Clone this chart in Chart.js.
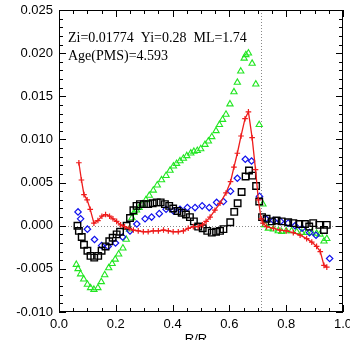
<!DOCTYPE html>
<html>
<head>
<meta charset="utf-8">
<script src="https://cdn.jsdelivr.net/npm/chart.js@4.4.0/dist/chart.umd.min.js"></script>
<style>
  body { margin: 0; background: #fff; }
  #wrap { width: 350px; height: 340px; }
</style>
</head>
<body>
<div id="wrap"><canvas id="myChart"></canvas></div>
<script>
// red line with + markers
const redX = [0.070, 0.079, 0.088, 0.099, 0.110, 0.123, 0.137, 0.151, 0.164, 0.178, 0.190, 0.203, 0.217, 0.231, 0.247,
  0.262, 0.279, 0.297, 0.314, 0.332, 0.350, 0.368, 0.385, 0.402, 0.420, 0.438, 0.455, 0.473, 0.490, 0.505, 0.518,
  0.532, 0.549, 0.567, 0.588, 0.604, 0.616, 0.628, 0.641, 0.655, 0.667, 0.680, 0.692, 0.702, 0.712, 0.718, 0.731,
  0.755, 0.778, 0.800, 0.825, 0.849, 0.872, 0.890, 0.907, 0.920, 0.933, 0.943];
const redY = [0.0073, 0.0053, 0.0036, 0.0030, 0.0019, 0.0003, 0.0006, 0.0011, 0.0013, 0.0011, 0.0008, 0.0005, 0.0001, -0.0001, -0.0003,
  -0.0005, -0.0006, -0.0007, -0.0007, -0.0006, -0.0006, -0.0005, -0.0006, -0.0007, -0.0007, -0.0006, -0.0003, -0.0001, -0.0001, 0.0001, 0.0005,
  0.0010, 0.0018, 0.0026, 0.0038, 0.0051, 0.0068, 0.0084, 0.0104, 0.0124, 0.0132, 0.0102, 0.0065, 0.0030, 0.0008, 0.0003, -0.0001,
  -0.0003, -0.0005, -0.0006, -0.0008, -0.0011, -0.0015, -0.0019, -0.0024, -0.0030, -0.0046, -0.0048];

// green triangles
const greenX = [0.061, 0.067, 0.076, 0.087, 0.100, 0.111, 0.123, 0.137, 0.149, 0.161, 0.175, 0.187, 0.198, 0.210, 0.225,
  0.237, 0.248, 0.257, 0.264, 0.273, 0.282, 0.294, 0.306, 0.318, 0.332, 0.346, 0.361, 0.377, 0.391, 0.403, 0.414,
  0.426, 0.438, 0.450, 0.464, 0.475, 0.487, 0.499, 0.514, 0.526, 0.538, 0.553, 0.565, 0.576, 0.588, 0.602, 0.616,
  0.628, 0.640, 0.652, 0.658, 0.667, 0.680, 0.693, 0.705, 0.718, 0.725, 0.737, 0.755, 0.772, 0.784, 0.800, 0.819,
  0.837, 0.855, 0.872, 0.890, 0.907, 0.919, 0.933, 0.943];
const greenY = [-0.0045, -0.0050, -0.0056, -0.0062, -0.0068, -0.0072, -0.0074, -0.0072, -0.0065, -0.0057, -0.0049, -0.0044, -0.0039, -0.0033, -0.0026,
  -0.0016, -0.0004, 0.0009, 0.0015, 0.0018, 0.0021, 0.0025, 0.0030, 0.0035, 0.0041, 0.0047, 0.0053, 0.0058, 0.0064, 0.0069, 0.0072,
  0.0075, 0.0078, 0.0081, 0.0084, 0.0086, 0.0087, 0.0089, 0.0094, 0.0098, 0.0103, 0.0110, 0.0117, 0.0123, 0.0129, 0.0141, 0.0155,
  0.0166, 0.0179, 0.0194, 0.0198, 0.0200, 0.0188, 0.0164, 0.0117, 0.0025, 0.0001, -0.0003, -0.0004, -0.0006, -0.0007, -0.0006, -0.0006,
  -0.0007, -0.0008, -0.0008, -0.0008, -0.0009, -0.0010, -0.0018, -0.0015];

// blue diamonds
const blueX = [0.067, 0.076, 0.100, 0.125, 0.150, 0.173, 0.199, 0.224, 0.250, 0.274, 0.303, 0.326, 0.353, 0.377, 0.403,
  0.426, 0.452, 0.479, 0.504, 0.529, 0.555, 0.579, 0.604, 0.628, 0.656, 0.678, 0.706, 0.728, 0.755, 0.780, 0.807,
  0.831, 0.856, 0.882, 0.905, 0.953];
const blueY = [0.0016, 0.0008, -0.0004, -0.0016, -0.0023, -0.0024, -0.0020, -0.0013, -0.0006, 0.0002, 0.0008, 0.0010, 0.0014, 0.0019, 0.0017,
  0.0019, 0.0021, 0.0021, 0.0023, 0.0021, 0.0027, 0.0028, 0.0040, 0.0055, 0.0077, 0.0075, 0.0034, 0.0008, 0.0006, 0.0005, 0.0003,
  0.0000, -0.0003, -0.0008, -0.0011, -0.0038];

// black squares
const blackX = [0.065, 0.070, 0.080, 0.088, 0.100, 0.111, 0.124, 0.138, 0.150, 0.164, 0.177, 0.189, 0.203, 0.215, 0.238,
  0.250, 0.262, 0.273, 0.285, 0.299, 0.314, 0.330, 0.344, 0.358, 0.373, 0.388, 0.402, 0.417, 0.432, 0.447, 0.461,
  0.475, 0.490, 0.506, 0.522, 0.538, 0.553, 0.567, 0.579, 0.603, 0.617, 0.629, 0.643, 0.657, 0.669, 0.681, 0.694,
  0.705, 0.715, 0.731, 0.749, 0.766, 0.784, 0.807, 0.825, 0.846, 0.866, 0.881, 0.895, 0.917, 0.933, 0.943];
const blackY = [0.0000, -0.0006, -0.0013, -0.0022, -0.0029, -0.0035, -0.0037, -0.0035, -0.0029, -0.0024, -0.0018, -0.0014, -0.0010, -0.0007, 0.0000,
  0.0009, 0.0018, 0.0023, 0.0025, 0.0025, 0.0025, 0.0026, 0.0027, 0.0027, 0.0025, 0.0023, 0.0020, 0.0017, 0.0015, 0.0013, 0.0010,
  0.0005, -0.0001, -0.0003, -0.0006, -0.0008, -0.0007, -0.0006, -0.0004, 0.0004, 0.0016, 0.0026, 0.0039, 0.0057, 0.0064, 0.0058, 0.0046,
  0.0028, 0.0010, 0.0008, 0.0005, 0.0006, 0.0005, 0.0004, 0.0003, 0.0002, 0.0002, -0.0001, 0.0003, 0.0001, -0.0005, 0.0001];

const xTicks = [0.0, 0.2, 0.4, 0.6, 0.8, 1.0];
const yTicks = [-0.010, -0.005, 0.000, 0.005, 0.010, 0.015, 0.020, 0.025];
const baseCZ = 0.713;
const infoLines = ["Zi=0.01774  Yi=0.28  ML=1.74", "Age(PMS)=4.593"];

const toPoints = (xs, ys) => xs.map((x, i) => ({ x: x, y: ys[i] }));

// box, inward ticks, dotted guides and texts
const frame = {
  id: "frame",
  beforeDatasetsDraw(chart) {
    const { ctx, chartArea: a, scales } = chart;
    ctx.save();
    ctx.strokeStyle = "#888";
    ctx.lineWidth = 1;
    ctx.setLineDash([1, 2]);
    const y0 = Math.round(scales.y.getPixelForValue(0)) + 0.5;
    ctx.beginPath();
    ctx.moveTo(a.left, y0);
    ctx.lineTo(a.right, y0);
    const xc = Math.round(scales.x.getPixelForValue(baseCZ)) + 0.5;
    ctx.moveTo(xc, a.top);
    ctx.lineTo(xc, a.bottom);
    ctx.stroke();
    ctx.restore();
  },
  afterDraw(chart) {
    const { ctx, chartArea: a, scales } = chart;
    ctx.save();
    ctx.strokeStyle = "#000";
    ctx.lineWidth = 1;
    ctx.strokeRect(a.left + 0.5, a.top + 0.5, a.right - a.left - 1, a.bottom - a.top - 1);
    ctx.beginPath();
    for (let i = 0; i <= 20; i++) {
      const len = i % 4 === 0 ? 7 : 4;
      const px = Math.round(scales.x.getPixelForValue(i * 0.05)) + 0.5;
      ctx.moveTo(px, a.bottom);
      ctx.lineTo(px, a.bottom - len);
      ctx.moveTo(px, a.top);
      ctx.lineTo(px, a.top + len);
    }
    for (let i = -10; i <= 25; i++) {
      const len = i % 5 === 0 ? 7 : 4;
      const py = Math.round(scales.y.getPixelForValue(i * 0.001)) + 0.5;
      ctx.moveTo(a.left, py);
      ctx.lineTo(a.left + len, py);
      ctx.moveTo(a.right, py);
      ctx.lineTo(a.right - len, py);
    }
    ctx.stroke();

    ctx.fillStyle = "#000";
    ctx.font = "14px 'Liberation Serif'";
    ctx.textAlign = "left";
    ctx.textBaseline = "alphabetic";
    ctx.fillText(infoLines[0], a.left + 9, a.top + 32);
    ctx.fillText(infoLines[1], a.left + 9, a.top + 50);

    // axis titles (mostly off the canvas like the original)
    ctx.font = "13px 'Liberation Sans'";
    ctx.textAlign = "center";
    ctx.fillText("R/R", (a.left + a.right) / 2 - 5, 343);
    ctx.translate(-3, (a.top + a.bottom) / 2 - 10);
    ctx.rotate(-Math.PI / 2);
    ctx.font = "11px 'DejaVu Sans'";
    ctx.fillText("δc²ₛ / c²ₛ,⊙", 0, 0);
    ctx.restore();
  }
};

const hiddenGrid = { drawOnChartArea: false, drawTicks: false, color: "rgba(0,0,0,0)" };

const ctx = document.getElementById("myChart").getContext("2d");
const myChart = new Chart(ctx, {
  type: "scatter",
  data: {
    datasets: [
      {
        data: toPoints(redX, redY),
        showLine: true,
        borderColor: "#ee1c1c",
        borderWidth: 1.3,
        pointStyle: "cross",
        pointRadius: 2.8,
        pointBorderColor: "#ee1c1c",
        pointBorderWidth: 1.2,
        backgroundColor: "rgba(0,0,0,0)",
      },
      {
        data: toPoints(blackX, blackY),
        pointStyle: "rect",
        pointRadius: 4.6,
        borderColor: "#000",
        pointBorderWidth: 1.4,
        backgroundColor: "rgba(0,0,0,0)",
      },
      {
        data: toPoints(blueX, blueY),
        pointStyle: "rectRot",
        pointRadius: 3.2,
        borderColor: "#1010ee",
        pointBorderWidth: 1.2,
        backgroundColor: "rgba(0,0,0,0)",
      },
      {
        data: toPoints(greenX, greenY),
        pointStyle: "triangle",
        pointRadius: 3.6,
        borderColor: "#22e622",
        pointBorderWidth: 1.1,
        backgroundColor: "rgba(0,0,0,0)",
      },
    ],
  },
  options: {
    responsive: true,
    maintainAspectRatio: false,
    animation: false,
    layout: { padding: { top: 10, right: 7, left: 0, bottom: 0 } },
    plugins: { legend: { display: false }, tooltip: { enabled: false } },
    scales: {
      x: {
        min: 0,
        max: 1,
        grid: hiddenGrid,
        border: { display: false },
        afterBuildTicks: (s) => { s.ticks = xTicks.map((v) => ({ value: v })); },
        ticks: {
          padding: 5,
          color: "#000",
          font: { family: "Liberation Sans", size: 13 },
          maxRotation: 0,
          callback: (v) => v.toFixed(1),
        },
        afterFit: (s) => { s.height = 28; s.paddingLeft = 0; s.paddingRight = 0; },
      },
      y: {
        min: -0.01,
        max: 0.025,
        grid: hiddenGrid,
        border: { display: false },
        afterBuildTicks: (s) => { s.ticks = yTicks.map((v) => ({ value: v })); },
        ticks: {
          padding: 6,
          color: "#000",
          font: { family: "Liberation Sans", size: 13 },
          callback: (v) => v.toFixed(3),
        },
        afterFit: (s) => { s.width = 59; s.paddingTop = 0; s.paddingBottom = 0; },
      },
    },
  },
  plugins: [frame],
});
</script>
</body>
</html>
